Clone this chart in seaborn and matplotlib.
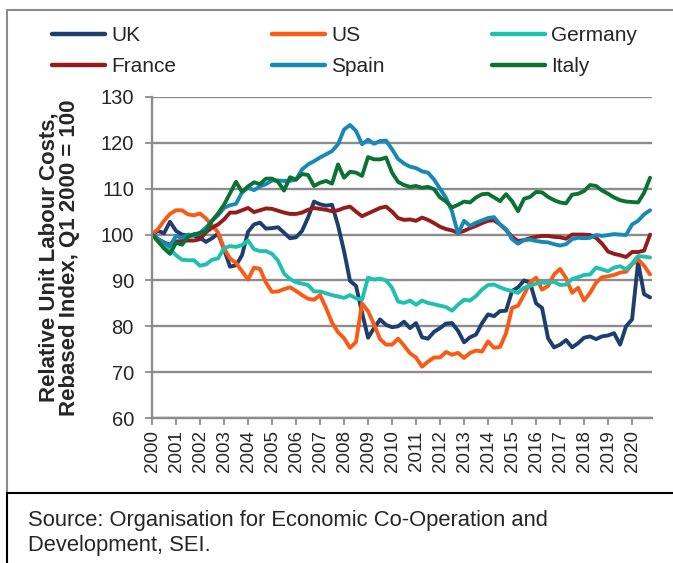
import numpy as np
import pandas as pd
import matplotlib
matplotlib.use("Agg")
import matplotlib.pyplot as plt
import seaborn as sns
from matplotlib.lines import Line2D

# ---------------- data (quarterly, Q1 2000 .. Q4 2020) ----------------
quarters = 2000 + np.arange(84) / 4.0
year_ticks = list(range(2000, 2021))

uk = [100, 100.8, 100.3, 102.8, 100.8, 100.0, 99.8, 99.8, 99.3, 98.4,
      99.2, 100.2, 96.8, 93.0, 93.3, 95.5, 100.6, 102.2, 102.6, 101.3,
      101.4, 101.6, 100.4, 99.2, 99.4, 100.8, 103.7, 107.2, 106.6, 106.3,
      106.5, 102.0, 96.4, 89.9, 88.8, 83.0, 77.5, 79.6, 81.5, 80.3,
      79.8, 80.0, 81.0, 79.6, 80.7, 77.6, 77.3, 78.8, 79.6, 80.6,
      80.7, 79.0, 76.5, 77.6, 78.2, 80.7, 82.6, 82.2, 83.3, 83.4,
      87.7, 88.5, 90.0, 89.5, 85.0, 84.0, 77.4, 75.4, 76.0, 77.0,
      75.4, 76.3, 77.5, 77.8, 77.2, 77.8, 78.0, 78.5, 76.0, 80.0,
      81.5, 94.0, 87.0, 86.3]
us = [100, 101.2, 103.0, 104.5, 105.3, 105.3, 104.4, 104.2, 104.6, 103.5,
      102.0, 100.5, 97.0, 94.8, 93.8, 92.0, 90.2, 92.8, 92.5, 89.5,
      87.5, 87.6, 88.1, 88.5, 87.7, 86.8, 86.0, 85.8, 86.8, 84.0,
      80.8, 78.7, 77.4, 75.3, 76.6, 85.0, 83.3, 80.4, 77.2, 76.0,
      76.0, 77.3, 75.8, 74.1, 73.2, 71.2, 72.3, 73.2, 73.2, 74.4,
      73.8, 74.2, 73.1, 74.2, 74.7, 74.5, 76.7, 75.3, 75.5, 78.5,
      84.0, 84.5, 86.9, 89.5, 90.6, 88.0, 88.8, 91.3, 92.5, 90.5,
      87.3, 88.4, 85.6, 87.3, 89.5, 90.7, 90.9, 91.2, 91.7, 91.9,
      93.5, 94.6, 93.2, 91.3]
germany = [100, 98.8, 98.0, 96.8, 95.5, 94.5, 94.4, 94.4, 93.2, 93.5,
           94.5, 94.8, 97.0, 97.5, 97.3, 97.7, 98.7, 96.8, 96.4, 96.4,
           95.8, 94.3, 91.5, 90.3, 89.6, 89.3, 89.0, 87.6, 87.6, 87.2,
           86.8, 86.5, 86.2, 86.8, 86.1, 85.8, 90.6, 90.2, 90.4, 90.0,
           88.4, 85.4, 85.1, 85.6, 84.7, 85.6, 85.1, 84.8, 84.5, 84.2,
           83.4, 84.7, 85.8, 85.6, 86.6, 88.0, 89.0, 89.1, 88.5, 88.0,
           87.7, 87.3, 88.4, 88.8, 89.3, 89.5, 89.5, 89.7, 89.0, 89.1,
           90.3, 90.7, 91.2, 91.3, 92.8, 92.4, 92.0, 92.8, 93.1, 92.4,
           93.7, 95.3, 95.2, 95.0]
france = [100, 99.0, 98.3, 97.8, 98.5, 98.6, 98.7, 98.7, 99.0, 100.5,
          101.5, 102.2, 103.3, 104.8, 104.8, 105.3, 105.8, 104.9, 105.3, 105.7,
          105.6, 105.2, 104.8, 104.5, 104.5, 104.8, 105.4, 105.8, 105.6, 105.4,
          105.1, 105.3, 105.8, 106.1, 105.0, 104.0, 104.6, 105.2, 105.8, 106.1,
          105.0, 103.6, 103.2, 103.3, 103.0, 103.7, 103.2, 102.5, 101.7, 101.2,
          100.9, 100.4, 100.8, 101.4, 101.9, 102.5, 103.0, 103.1, 102.2, 101.0,
          99.5, 98.6, 98.8, 99.2, 99.5, 99.7, 99.7, 99.5, 99.4, 99.1,
          100.0, 100.0, 100.0, 99.9, 99.3, 98.0, 96.3, 95.8, 95.5, 95.1,
          96.2, 96.2, 96.5, 100.0]
spain = [100, 99.0, 98.3, 97.5, 99.7, 99.3, 100.0, 99.8, 100.4, 101.5,
         103.0, 104.2, 105.8, 106.4, 106.7, 109.2, 110.2, 109.7, 110.5, 111.0,
         111.8, 111.8, 111.7, 111.7, 112.0, 114.2, 115.3, 116.0, 116.8, 117.5,
         118.2, 119.7, 122.9, 123.9, 122.6, 119.7, 120.7, 119.8, 120.4, 120.5,
         118.6, 116.5, 115.5, 114.8, 114.5, 113.8, 113.5, 112.0, 110.0, 108.0,
         105.0, 100.2, 103.0, 101.9, 102.6, 103.1, 103.6, 103.8, 102.2, 101.2,
         99.0, 98.0, 98.8, 98.9, 98.6, 98.4, 98.3, 97.9, 97.6, 97.9,
         99.0, 99.3, 99.2, 99.3, 99.9, 99.7, 99.9, 100.1, 100.0, 99.9,
         102.2, 103.0, 104.4, 105.3]
italy = [100, 98.5, 97.0, 95.8, 98.2, 97.8, 99.5, 100.1, 100.3, 100.8,
         103.0, 104.6, 106.5, 109.0, 111.5, 109.3, 110.5, 111.4, 111.0, 112.2,
         112.2, 111.5, 109.6, 112.5, 112.0, 113.2, 113.0, 110.6, 111.3, 111.7,
         111.1, 115.3, 112.4, 113.7, 113.5, 112.8, 116.9, 116.4, 116.4, 116.8,
         113.5, 111.5, 110.8, 110.4, 110.6, 110.2, 110.4, 109.9, 108.1, 107.2,
         105.9, 106.5, 107.2, 107.0, 108.1, 108.8, 108.9, 108.1, 107.3, 108.8,
         107.3, 105.1, 107.8, 108.2, 109.3, 109.2, 108.2, 107.5, 107.0, 106.8,
         108.7, 108.9, 109.5, 110.8, 110.6, 109.6, 108.9, 108.1, 107.5, 107.2,
         107.1, 107.0, 109.1, 112.4]

countries = ["UK", "US", "Germany", "France", "Spain", "Italy"]
series = [uk, us, germany, france, spain, italy]
colors = ["#1C3F6E", "#FA5A14", "#1FC0B0", "#961B1B", "#1889B6", "#0B7234"]

y_label = "Relative Unit Labour Costs,\nRebased Index, Q1 2000 = 100"
source = "Source: Organisation for Economic Co-Operation and\nDevelopment, SEI."

df = pd.DataFrame({
    "quarter": np.tile(quarters, len(countries)),
    "value": np.concatenate([np.asarray(s, float) for s in series]),
    "country": np.repeat(countries, len(quarters)),
})

# ---------------- style ----------------
sns.set_theme(style="white")
plt.rcParams["font.family"] = ["Liberation Sans", "DejaVu Sans"]

W, H = 673, 563
fig = plt.figure(figsize=(W / 100, H / 100), dpi=100)
ax = fig.add_axes([152 / W, 1 - 418 / H, 500 / W, 321 / H])

palette = dict(zip(countries, colors))
sns.lineplot(data=df, x="quarter", y="value", hue="country",
             hue_order=countries, palette=palette, linewidth=2.8,
             ax=ax, legend=True)
ax.get_legend().remove()

grid_c = "#8C8C8C"
ax.set_xlim(2000, 2020.83)
ax.set_ylim(60, 130)
ax.set_yticks(range(60, 131, 10))
ax.set_xticks(year_ticks)
ax.set_xticklabels([str(y) for y in year_ticks], rotation=90)
ax.yaxis.grid(True, color=grid_c, linewidth=1.7)
ax.xaxis.grid(False)
ax.set_axisbelow(True)
for s in ["top", "right"]:
    ax.spines[s].set_visible(False)
for s in ["left", "bottom"]:
    ax.spines[s].set_color(grid_c)
    ax.spines[s].set_linewidth(1.7)
ax.tick_params(axis="both", which="major", direction="out", length=5,
               width=1.3, color=grid_c, left=True, bottom=True)
ax.tick_params(axis="y", labelsize=14.5, pad=8)
ax.tick_params(axis="x", labelsize=13.5, pad=4)
ax.set_xlabel("")
ax.set_ylabel(y_label, fontsize=16, fontweight="bold", linespacing=0.95)
ax.yaxis.set_label_coords(-0.144, 0.5)

# legend: three columns of two entries each
cols = [["UK", "France"], ["US", "Spain"], ["Germany", "Italy"]]
xs = [52, 272, 492]
for names, x0 in zip(cols, xs):
    hs = [Line2D([], [], color=palette[n], linewidth=3.2,
                 solid_capstyle="round") for n in names]
    fig.legend(hs, names, loc="upper left",
               bbox_to_anchor=(x0 / W, 1 - 26 / H),
               bbox_transform=fig.transFigure, frameon=False,
               fontsize=15, handlelength=2.55, handletextpad=0.28,
               borderpad=0, borderaxespad=0, labelspacing=0.58)

# frame lines
fig.add_artist(Line2D([7 / W, 1], [1 - 10 / H, 1 - 10 / H],
                      transform=fig.transFigure, color="#8C8C8C", lw=1.5))
fig.add_artist(Line2D([7 / W, 7 / W], [1 - 10 / H, 1 - 493 / H],
                      transform=fig.transFigure, color="#8C8C8C", lw=1.5))
fig.add_artist(Line2D([7 / W, 1], [1 - 493 / H, 1 - 493 / H],
                      transform=fig.transFigure, color="black", lw=1.5))
fig.add_artist(Line2D([7 / W, 7 / W], [1 - 493 / H, 0],
                      transform=fig.transFigure, color="black", lw=1.5))

fig.text(28 / W, 1 - 533 / H, source, fontsize=15.8, ha="left",
         va="center", linespacing=1.25)

fig.savefig("out.png", dpi=100)
